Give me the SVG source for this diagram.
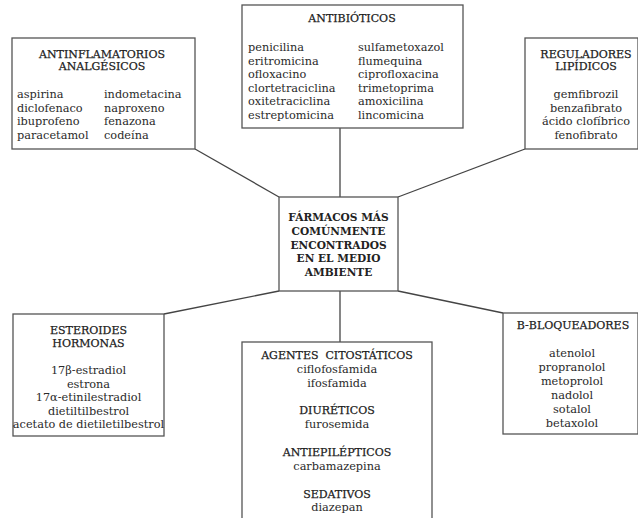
<svg xmlns="http://www.w3.org/2000/svg" width="638" height="518" viewBox="0 0 638 518">
<style>
.box{fill:#fff;stroke:#555;stroke-width:1.3}
.ln{stroke:#444;stroke-width:1.3;fill:none}
text{font-family:"DejaVu Serif","Liberation Serif",serif;font-size:11.3px;fill:#2a2a2a}
.t{font-size:11px;fill:#1c1c1c;stroke:#1c1c1c;stroke-width:0.25px}
.c{text-anchor:middle}
.b{font-weight:bold;font-size:10.6px;fill:#222}
</style>
<rect width="638" height="518" fill="#fff"/>
<g id="connectors">
<line class="ln" x1="195" y1="149" x2="279" y2="197"/>
<line class="ln" x1="340" y1="128" x2="340" y2="197"/>
<line class="ln" x1="525" y1="149" x2="398" y2="197"/>
<line class="ln" x1="164" y1="314" x2="279" y2="291"/>
<line class="ln" x1="340" y1="291" x2="340" y2="342"/>
<line class="ln" x1="503" y1="313" x2="398" y2="291"/>
</g>
<g id="center">
<rect class="box" x="279" y="197" width="119" height="94"/>
<text class="c b" x="338.5" y="221">FÁRMACOS MÁS</text>
<text class="c b" x="338.5" y="235">COMÚNMENTE</text>
<text class="c b" x="338.5" y="249">ENCONTRADOS</text>
<text class="c b" x="338.5" y="262">EN EL MEDIO</text>
<text class="c b" x="338.5" y="276">AMBIENTE</text>
</g>
<g id="antinflamatorios">
<rect class="box" x="12" y="38" width="183" height="111"/>
<text class="c t" x="102" y="57.5">ANTINFLAMATORIOS</text>
<text class="c t" x="102" y="70">ANALGÉSICOS</text>
<text x="17" y="98">aspirina</text>
<text x="17" y="111.5">diclofenaco</text>
<text x="17" y="125">ibuprofeno</text>
<text x="17" y="138.5">paracetamol</text>
<text x="104" y="98">indometacina</text>
<text x="104" y="111.5">naproxeno</text>
<text x="104" y="125">fenazona</text>
<text x="104" y="138.5">codeína</text>
</g>
<g id="antibioticos">
<rect class="box" x="242" y="5" width="221" height="123"/>
<text class="c t" x="352" y="22">ANTIBIÓTICOS</text>
<text x="248" y="51">penicilina</text>
<text x="248" y="64.5">eritromicina</text>
<text x="248" y="78">ofloxacino</text>
<text x="248" y="91.5">clortetraciclina</text>
<text x="248" y="105">oxitetraciclina</text>
<text x="248" y="118.5">estreptomicina</text>
<text x="358" y="51">sulfametoxazol</text>
<text x="358" y="64.5">flumequina</text>
<text x="358" y="78">ciprofloxacina</text>
<text x="358" y="91.5">trimetoprima</text>
<text x="358" y="105">amoxicilina</text>
<text x="358" y="118.5">lincomicina</text>
</g>
<g id="reguladores">
<rect class="box" x="525" y="38" width="113" height="111"/>
<text class="c t" x="586" y="57.5">REGULADORES</text>
<text class="c t" x="586" y="70">LIPÍDICOS</text>
<text class="c" x="586" y="98">gemfibrozil</text>
<text class="c" x="586" y="111.5">benzafibrato</text>
<text class="c" x="586" y="125">ácido clofíbrico</text>
<text class="c" x="586" y="138.5">fenofibrato</text>
</g>
<g id="esteroides">
<rect class="box" x="13" y="314" width="151" height="122"/>
<text class="c t" x="88.5" y="334">ESTEROIDES</text>
<text class="c t" x="88.5" y="347">HORMONAS</text>
<text class="c" x="88.5" y="374">17β-estradiol</text>
<text class="c" x="88.5" y="387.5">estrona</text>
<text class="c" x="88.5" y="401">17α-etinilestradiol</text>
<text class="c" x="88.5" y="414.5">dietiltilbestrol</text>
<text class="c" x="88.5" y="428">acetato de dietiletilbestrol</text>
</g>
<g id="agentes">
<rect class="box" x="242" y="342" width="190" height="190"/>
<text class="c t" x="337" y="359" xml:space="preserve">AGENTES  CITOSTÁTICOS</text>
<text class="c" x="337" y="373">ciflofosfamida</text>
<text class="c" x="337" y="387">ifosfamida</text>
<text class="c t" x="337" y="414">DIURÉTICOS</text>
<text class="c" x="337" y="428">furosemida</text>
<text class="c t" x="337" y="456">ANTIEPILÉPTICOS</text>
<text class="c" x="337" y="470">carbamazepina</text>
<text class="c t" x="337" y="498">SEDATIVOS</text>
<text class="c" x="337" y="511">diazepan</text>
</g>
<g id="bloqueadores">
<rect class="box" x="503" y="313" width="135" height="121"/>
<text class="c t" x="573" y="329">B-BLOQUEADORES</text>
<text class="c" x="572" y="357">atenolol</text>
<text class="c" x="572" y="371">propranolol</text>
<text class="c" x="572" y="385">metoprolol</text>
<text class="c" x="572" y="399">nadolol</text>
<text class="c" x="572" y="413">sotalol</text>
<text class="c" x="572" y="427">betaxolol</text>
</g>
</svg>
